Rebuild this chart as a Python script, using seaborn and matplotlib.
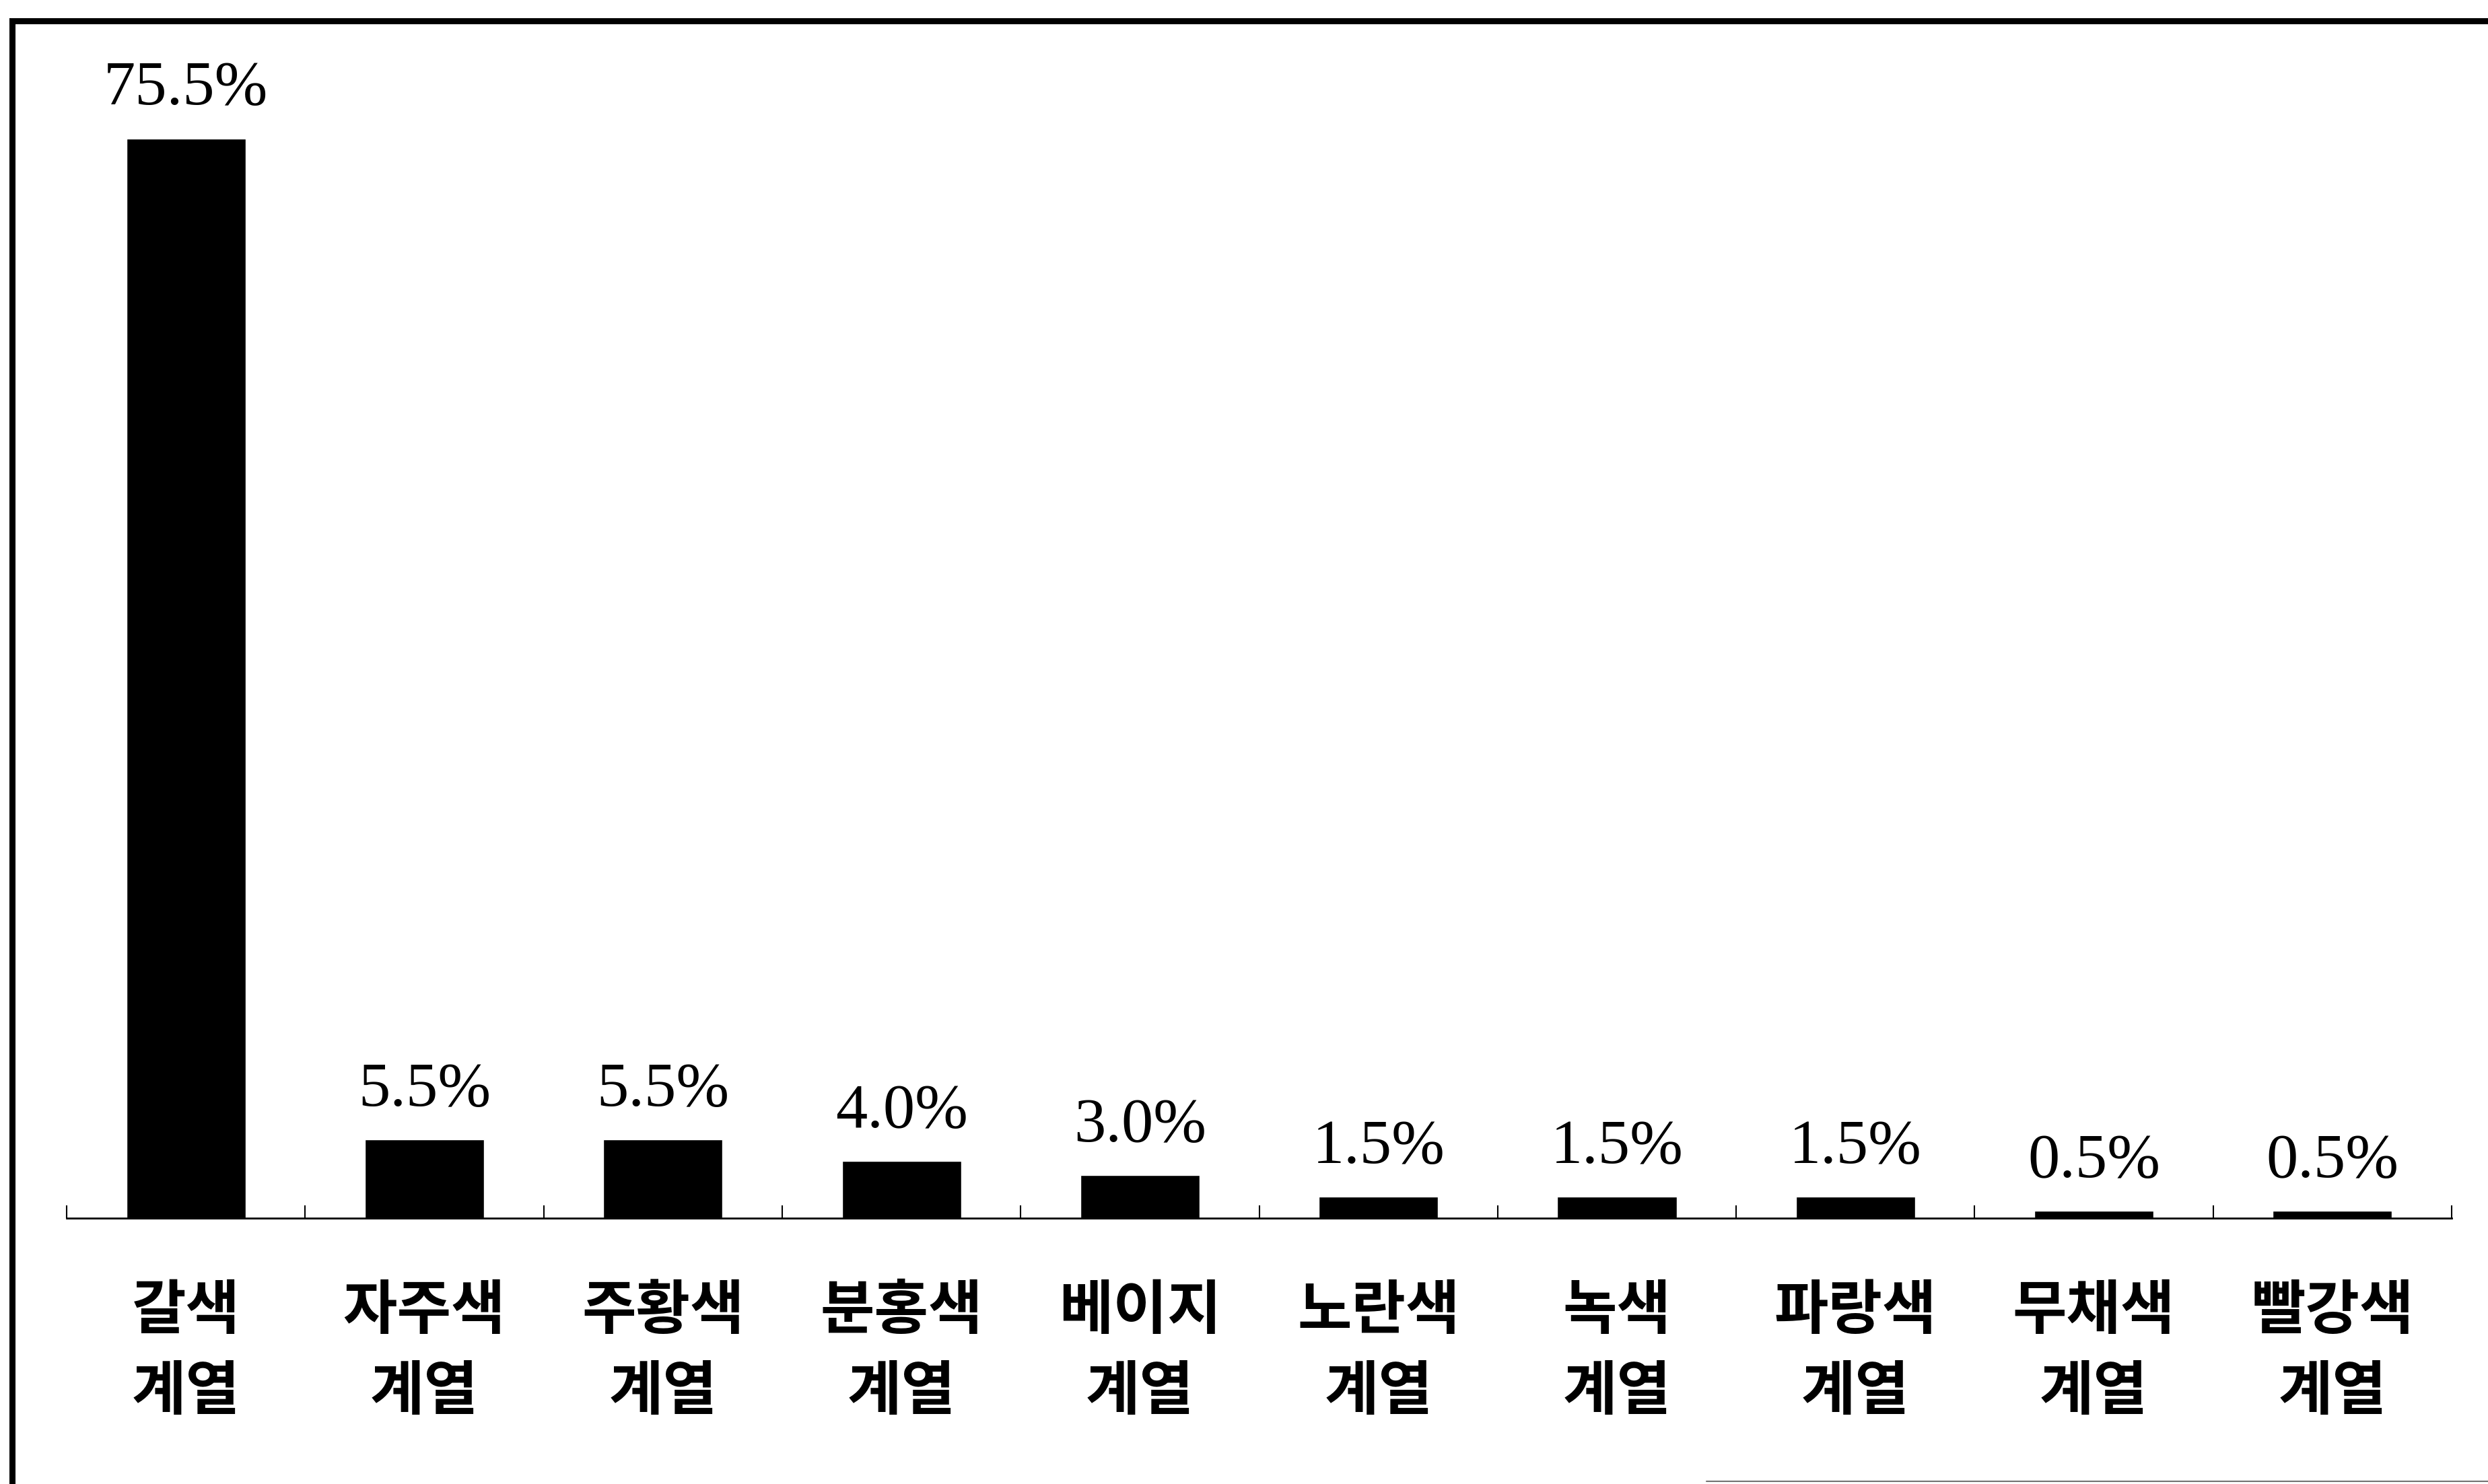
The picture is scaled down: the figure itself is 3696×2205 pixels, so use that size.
import pandas as pd
import matplotlib
matplotlib.use("Agg")
import matplotlib.pyplot as plt
import seaborn as sns
from matplotlib.lines import Line2D
from matplotlib.ticker import FixedLocator

# colour groups and their share (%)
categories = ['갈색\n계열', '자주색\n계열', '주황색\n계열', '분홍색\n계열', '베이지\n계열',
              '노란색\n계열', '녹색\n계열', '파랑색\n계열', '무채색\n계열', '빨강색\n계열']
shares = [75.5, 5.5, 5.5, 4.0, 3.0, 1.5, 1.5, 1.5, 0.5, 0.5]
value_labels = [f'{v:.1f}%' for v in shares]

sns.set_style('white')
plt.rcParams['font.family'] = ['Noto Sans CJK KR', 'DejaVu Sans']

df = pd.DataFrame({'color_group': categories, 'share': shares})

fig = plt.figure(figsize=(36.96, 22.05), dpi=100)
ax = fig.add_axes([0.0268, 0.1791, 0.9586, 0.7709])
sns.barplot(data=df, x='color_group', y='share', color='black', saturation=1,
            width=0.5, ax=ax)

ax.set_xlim(-0.5, 9.5)
ax.set_ylim(0, 80)
ax.set_xlabel('')
ax.set_ylabel('')
ax.set_yticks([])
for s in ['left', 'top', 'right']:
    ax.spines[s].set_visible(False)
ax.spines['bottom'].set_color('black')
ax.spines['bottom'].set_linewidth(2)

# category separators as small inward ticks
ax.xaxis.set_minor_locator(FixedLocator([i - 0.5 for i in range(len(categories) + 1)]))
ax.tick_params(axis='x', which='minor', direction='in', length=14, width=1.5,
               color='black', bottom=True)
ax.tick_params(axis='x', which='major', length=0, pad=68, labelsize=63,
               labelcolor='black')
for lbl in ax.get_xticklabels():
    lbl.set_fontweight('bold')
    lbl.set_linespacing(1.45)

ax.bar_label(ax.containers[0], labels=value_labels, padding=22, fontsize=68,
             family='Liberation Serif', color='black')

# page frame (left and top edge, faint bottom piece)
fig.add_artist(Line2D([0.0049, 0.0049], [0.0, 0.986], transform=fig.transFigure,
                      lw=6.5, color='black', solid_capstyle='projecting'))
fig.add_artist(Line2D([0.0049, 1.0], [0.986, 0.986], transform=fig.transFigure,
                      lw=6.5, color='black', solid_capstyle='projecting'))
fig.add_artist(Line2D([0.686, 1.0], [0.002, 0.002], transform=fig.transFigure,
                      lw=1.5, color='0.45'))

fig.savefig('out.png', dpi=100, facecolor='white')
